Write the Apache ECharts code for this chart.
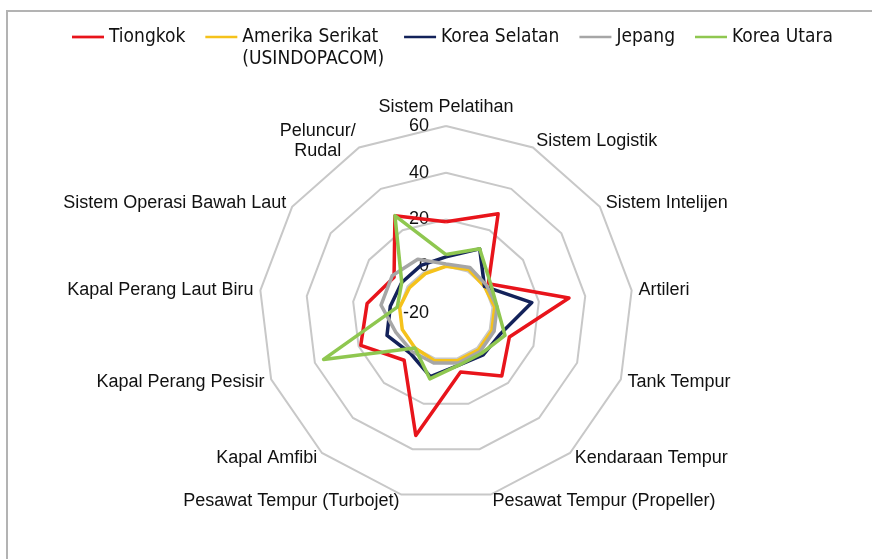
<!DOCTYPE html>
<html>
<head>
<meta charset="utf-8">
<script src="https://cdn.jsdelivr.net/npm/echarts@6/dist/echarts.min.js"></script>
<style>html,body{margin:0;padding:0;background:#fff}#c{width:872px;height:559px}</style>
</head>
<body>
<div id="c"></div>
<script>
const indicators = ['Sistem Pelatihan','Sistem Logistik','Sistem Intelijen','Artileri','Tank Tempur','Kendaraan Tempur','Pesawat Tempur (Propeller)','Pesawat Tempur (Turbojet)','Kapal Amfibi','Kapal Perang Pesisir','Kapal Perang Laut Biru','Sistem Operasi Bawah Laut','Peluncur/\nRudal'];
const seriesNames = ['Tiongkok','Amerika Serikat (USINDOPACOM)','Korea Selatan','Jepang','Korea Utara'];
const tiongkok     = [19, 28, 2, 33, 9, 16, 6, 34, 7, 19, 14, 7, 27];
const amerika      = [0, 1, 0, 1, 1, 1, 1, 1, 0, 0, 0, -1, -1];
const koreaSelatan = [4, 11, 0, 17, 5, 4, 3, 8, 3, 7, 4, 3, 3];
const jepang       = [1, 2, 1, 2, 2, 2, 2, 2, 2, 3, 8, 8, 6];
const koreaUtara   = [5, 11, 3, 2, 7, 3, 3, 9, 0, 36, 1, 3, 27];
const axisMin = -20, axisMax = 60, axisStep = 20;

const colors = ['#e8141b','#f5c21b','#13225a','#a6a6a6','#8fc750'];
const allValues = [tiongkok, amerika, koreaSelatan, jepang, koreaUtara];

// ECharts radar runs counter-clockwise; reorder so the picture runs clockwise
const order = [0].concat(indicators.map((_, i) => i).slice(1).reverse());
const reorder = arr => order.map(i => arr[i]);

const font = 'Liberation Sans, Arial, sans-serif';
const chart = echarts.init(document.getElementById('c'), null, {renderer: 'canvas'});
chart.setOption({
  animation: false,
  backgroundColor: '#fff',
  color: colors,
  graphic: [{
    type: 'polyline', silent: true,
    shape: {points: [[7, 560], [7, 11], [873, 11]]},
    style: {stroke: '#b3b3b3', lineWidth: 2, fill: null}
  }],
  legend: {
    left: 72, top: 4, padding: 0, itemGap: 20, itemWidth: 32, itemHeight: 14,
    icon: 'path://M0,6 L35,6 L35,9 L0,9 Z',
    data: seriesNames.map(n => ({name: n})),
    formatter: n => n === seriesNames[1] ? ' \nAmerika Serikat\n(USINDOPACOM)' : n,
    textStyle: {fontFamily: 'DejaVu Sans Condensed, Arial, sans-serif', fontSize: 19, color: '#111', lineHeight: 22}
  },
  radar: {
    center: [446, 313],
    radius: 187,
    startAngle: 90,
    splitNumber: 4,
    shape: 'polygon',
    nameGap: 7,
    axisName: {
      color: '#111', fontFamily: font, fontSize: 18, lineHeight: 20,
      formatter: n => n.indexOf('\n') >= 0 ? n.split('\n').map(s => '{c|' + s + '}').join('\n') : n,
      rich: {c: {align: 'center', color: '#111', fontFamily: font, fontSize: 18, lineHeight: 20}}
    },
    axisLine: {show: false},
    axisTick: {show: false},
    axisLabel: {show: false},
    splitArea: {show: false},
    splitLine: {lineStyle: {color: '#c8c8c8', width: 2}},
    indicator: reorder(indicators).map((n, k) => {
      const o = {name: n, min: axisMin, max: axisMax, interval: axisStep};
      if (k === 0) o.axisLabel = {show: true, color: '#111', fontFamily: font, fontSize: 18, margin: 17};
      return o;
    })
  },
  series: [{
    type: 'radar',
    symbol: 'none',
    lineStyle: {width: 3.5},
    data: allValues.map((v, i) => ({
      name: seriesNames[i],
      value: reorder(v),
      lineStyle: {color: colors[i], width: 3.5},
      itemStyle: {color: colors[i]}
    }))
  }]
});
</script>
</body>
</html>
